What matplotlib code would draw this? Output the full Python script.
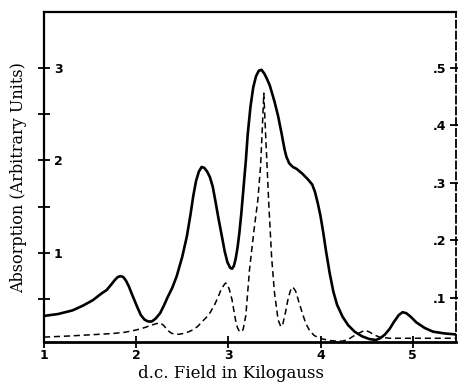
import matplotlib
matplotlib.use('Agg')
import matplotlib.pyplot as plt

# Solid curve (left axis, arbitrary units)
field_solid = [1.00, 1.15, 1.31, 1.42, 1.53, 1.62, 1.68, 1.73, 1.77, 1.80, 1.83, 1.86, 1.89,
               1.92, 1.96, 2.01, 2.05, 2.09, 2.13, 2.17, 2.21, 2.26, 2.30, 2.34, 2.39, 2.44,
               2.50, 2.55, 2.59, 2.62, 2.65, 2.68, 2.71, 2.74, 2.77, 2.80, 2.83, 2.86, 2.89,
               2.93, 2.96, 2.99, 3.02, 3.04, 3.06, 3.08, 3.10, 3.12, 3.14, 3.16, 3.19, 3.21,
               3.24, 3.27, 3.30, 3.33, 3.36, 3.39, 3.42, 3.45, 3.50, 3.54, 3.58, 3.61, 3.63,
               3.66, 3.70, 3.74, 3.80, 3.86, 3.91, 3.94, 3.97, 4.00, 4.03, 4.06, 4.10, 4.14,
               4.18, 4.24, 4.30, 4.37, 4.45, 4.53, 4.60, 4.65, 4.70, 4.75, 4.80, 4.85, 4.89,
               4.93, 4.98, 5.04, 5.13, 5.22, 5.35, 5.47]
absorb_solid = [0.32, 0.34, 0.38, 0.43, 0.49, 0.56, 0.60, 0.66, 0.71, 0.74, 0.75, 0.74, 0.70,
                0.64, 0.54, 0.42, 0.33, 0.28, 0.26, 0.26, 0.29, 0.35, 0.43, 0.52, 0.62, 0.75,
                0.96, 1.18, 1.42, 1.62, 1.78, 1.88, 1.93, 1.92, 1.88, 1.82, 1.72, 1.56, 1.39,
                1.18, 1.02, 0.90, 0.84, 0.83, 0.86, 0.94, 1.06, 1.22, 1.42, 1.65, 2.00, 2.28,
                2.58, 2.79, 2.91, 2.97, 2.98, 2.94, 2.88, 2.81, 2.64, 2.48, 2.28, 2.12, 2.04,
                1.97, 1.93, 1.91, 1.86, 1.80, 1.74, 1.66, 1.54, 1.40, 1.22, 1.02, 0.78, 0.58,
                0.44, 0.31, 0.22, 0.15, 0.10, 0.07, 0.06, 0.08, 0.12, 0.18, 0.26, 0.33, 0.36,
                0.35, 0.31, 0.25, 0.19, 0.15, 0.13, 0.12]

# Dashed curve (right axis)
field_dashed = [1.00, 1.28, 1.50, 1.72, 1.86, 1.96, 2.04, 2.10, 2.15, 2.21, 2.26, 2.30, 2.34,
                2.38, 2.42, 2.47, 2.53, 2.58, 2.62, 2.67, 2.71, 2.76, 2.80, 2.85, 2.89, 2.92,
                2.95, 2.97, 2.99, 3.01, 3.04, 3.06, 3.08, 3.10, 3.12, 3.14, 3.16, 3.19, 3.23,
                3.28, 3.32, 3.35, 3.37, 3.385, 3.40, 3.42, 3.44, 3.47, 3.50, 3.54, 3.57, 3.59,
                3.62, 3.65, 3.68, 3.70, 3.73, 3.76, 3.80, 3.84, 3.88, 3.93, 3.99, 4.10, 4.18,
                4.24, 4.30, 4.36, 4.43, 4.48, 4.53, 4.58, 4.64, 4.75, 4.86, 5.18, 5.47]
absorb_dashed = [0.032, 0.034, 0.036, 0.038, 0.040, 0.043, 0.046, 0.049, 0.052, 0.055, 0.057,
                 0.052, 0.044, 0.039, 0.037, 0.037, 0.039, 0.042, 0.045, 0.051, 0.058, 0.066,
                 0.074, 0.088, 0.102, 0.114, 0.122, 0.126, 0.124, 0.115, 0.097, 0.078, 0.060,
                 0.048, 0.042, 0.041, 0.045, 0.070, 0.150, 0.220, 0.270, 0.330, 0.400, 0.456,
                 0.400, 0.330, 0.260, 0.170, 0.110, 0.062, 0.050, 0.054, 0.075, 0.100, 0.116,
                 0.119, 0.112, 0.096, 0.075, 0.056, 0.044, 0.035, 0.030, 0.026, 0.025, 0.025,
                 0.028, 0.034, 0.040, 0.044, 0.041, 0.036, 0.032, 0.030, 0.030, 0.030, 0.030]

x_ticks = [1, 2, 3, 4, 5]
left_major = [1, 2, 3]
left_minor = [0.5, 1.5, 2.5]
right_ticks = [0.1, 0.2, 0.3, 0.4, 0.5]
right_labels = ['.1', '.2', '.3', '.4', '.5']

fig = plt.figure(figsize=(4.58, 3.91), dpi=100)
ax = fig.add_axes([0.0961, 0.1253, 0.8995, 0.844])
ax.plot(field_solid, absorb_solid, color='black', lw=1.9,
        solid_joinstyle='round', solid_capstyle='round')
ax.set_xlim(1, 5.47)
ax.set_ylim(0.038, 3.605)

ax2 = ax.twinx()
ax2.plot(field_dashed, absorb_dashed, color='black', lw=1.1, dashes=(4, 2.5))
ax2.set_ylim(0.0235, 0.597)

tickfont = dict(fontsize=9, fontweight='bold', family='DejaVu Sans')

ax.set_xticks(x_ticks)
ax.set_xticklabels([str(t) for t in x_ticks], **tickfont)
ax.set_yticks(left_major)
ax.set_yticklabels([str(t) for t in left_major], **tickfont)
ax.set_yticks(left_minor, minor=True)
ax.tick_params(axis='x', direction='inout', length=8, width=1.3, pad=1)
ax.tick_params(axis='y', which='both', direction='inout', length=8, width=1.3, pad=-11)
for lbl in ax.get_yticklabels():
    lbl.set_ha('left')

ax2.set_yticks(right_ticks)
ax2.set_yticklabels(right_labels, **tickfont)
ax2.tick_params(axis='y', direction='inout', length=8, width=1.3, pad=-11)
for lbl in ax2.get_yticklabels():
    lbl.set_ha('right')

for s in ['top', 'left']:
    ax.spines[s].set_linewidth(1.6)
ax.spines['bottom'].set_linewidth(2.0)
ax.spines['right'].set_visible(False)
for s in ['top', 'left', 'bottom']:
    ax2.spines[s].set_visible(False)
ax2.spines['right'].set_linewidth(1.3)
ax2.spines['right'].set_linestyle((0, (4, 2)))

fig.text(0.504, 0.044, 'd.c. Field in Kilogauss', ha='center', va='center',
         fontsize=12, family='DejaVu Serif')
fig.text(0.040, 0.547, 'Absorption (Arbitrary Units)', ha='center', va='center',
         rotation=90, fontsize=11.5, family='DejaVu Serif')

fig.savefig('out.png', dpi=100)
